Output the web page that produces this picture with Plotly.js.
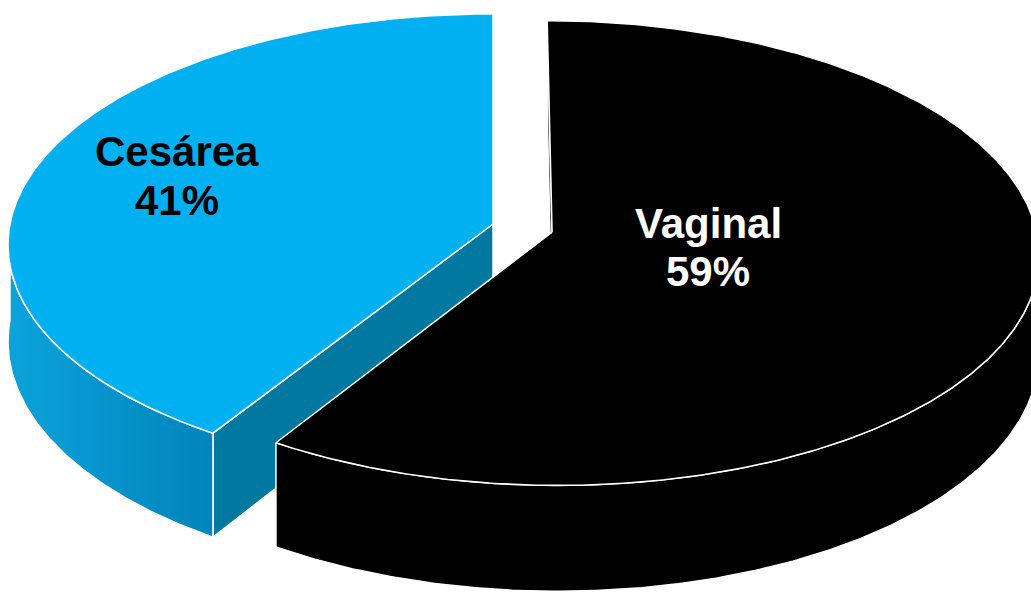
<!DOCTYPE html>
<html>
<head>
<meta charset="utf-8">
<script src="https://cdn.plot.ly/plotly-3.0.1.min.js"></script>
<style>html,body{margin:0;padding:0;background:#fff;overflow:hidden}#chart{width:1031px;height:593px}</style>
</head>
<body>
<div id="chart"></div>
<script>
// ---- data ----
const categories = ['Vaginal', 'Cesárea'];
const values = [59, 41];

// ---- style ----
const topColors = ['#000000', '#00B0F0'];
const cutColors = ['#000000', '#00789F'];
const wallColors = ['#000000', '#0A98D0'];
const wallGradients = [null, [[0, '#0CA2DB'], [1, '#0084BB']]];
const textColors = ['#FFFFFF', '#000000'];
const pulls = [0.127, 0];
const labelAt = [[708, 223, 271], [177, 151, 200]];

// 3D projection parameters (pixel space)
const cx = 493, cy = 224, B = 483, A = 229, K = 0.0898, D = 96;
function proj(X, Z, h) {
  const s = 1 + K * Z;
  return [cx + B * X / s, cy + (-A * Z + h * D) / s];
}

const total = values.reduce((a, b) => a + b, 0);
const rad = d => d * Math.PI / 180;
let cum = 0;
const slices = values.map((v, i) => {
  const a0 = 90 - 360 * cum / total;
  const a1 = 90 - 360 * (cum + v) / total;
  cum += v;
  const mid = rad((a0 + a1) / 2);
  return { i, a0, a1, px: pulls[i] * Math.cos(mid), pz: pulls[i] * Math.sin(mid), midZ: Math.sin(mid) };
});

function rimPt(sl, deg, h) {
  const t = rad(deg);
  return proj(sl.px + Math.cos(t), sl.pz + Math.sin(t), h);
}
function arc(sl, d0, d1, h) {
  const n = Math.max(2, Math.ceil(Math.abs(d1 - d0) / 0.5));
  const pts = [];
  for (let j = 0; j <= n; j++) pts.push(rimPt(sl, d0 + (d1 - d0) * j / n, h));
  return pts;
}
function polyTrace(pts, fill, grad) {
  const tr = {
    type: 'scatter', mode: 'lines', fill: 'toself',
    x: pts.map(p => p[0]), y: pts.map(p => p[1]),
    fillcolor: fill, line: { color: '#FFFFFF', width: 1.5 },
    hoverinfo: 'skip', showlegend: false
  };
  if (grad) tr.fillgradient = { type: 'horizontal', colorscale: grad };
  return tr;
}
function signedArea(pts) {
  let s = 0;
  for (let j = 0; j < pts.length; j++) {
    const p = pts[j], q = pts[(j + 1) % pts.length];
    s += p[0] * q[1] - q[0] * p[1];
  }
  return s;
}

const traces = [];
slices.slice().sort((a, b) => b.midZ - a.midZ).forEach(sl => {
  const c0 = proj(sl.px, sl.pz, 0), c1 = proj(sl.px, sl.pz, 1);
  // radial cut faces
  [[sl.a0, -1], [sl.a1, 1]].forEach(([deg, sign]) => {
    const q = [c0, rimPt(sl, deg, 0), rimPt(sl, deg, 1), c1];
    if (signedArea(q) * sign > 1) traces.push(polyTrace(q.concat([c0]), cutColors[sl.i]));
  });
  // outer curved walls (front half only)
  for (let n = -2; n <= 1; n++) {
    const lo = Math.max(sl.a1, -180 + 360 * n), hi = Math.min(sl.a0, 360 * n);
    if (hi > lo) {
      const topA = arc(sl, lo, hi, 0), botA = arc(sl, hi, lo, 1);
      const pts = topA.concat(botA, [topA[0]]);
      traces.push(polyTrace(pts, wallColors[sl.i], wallGradients[sl.i]));
    }
  }
  // top face
  const topPts = [c0].concat(arc(sl, sl.a0, sl.a1, 0), [c0]);
  traces.push(polyTrace(topPts, topColors[sl.i]));
});

const annotations = [];
categories.forEach((cat, i) => {
  const pct = Math.round(values[i] / total * 100) + '%';
  const [lx, y1, y2] = labelAt[i];
  [[cat, y1], [pct, y2]].forEach(([txt, yy]) => annotations.push({
    x: lx, y: yy, xref: 'x', yref: 'y', text: '<b>' + txt + '</b>', showarrow: false,
    xanchor: 'center', yanchor: 'middle',
    font: { family: 'Liberation Sans, Arial, sans-serif', size: 42, color: textColors[i] }
  }));
});

const layout = {
  width: 1031, height: 593, autosize: false,
  margin: { l: 0, r: 0, t: 0, b: 0, pad: 0 },
  paper_bgcolor: '#FFFFFF', plot_bgcolor: '#FFFFFF',
  xaxis: { range: [0, 1031], visible: false, fixedrange: true },
  yaxis: { range: [593, 0], visible: false, fixedrange: true },
  showlegend: false, hovermode: false,
  annotations
};
Plotly.newPlot('chart', traces, layout, { displayModeBar: false, staticPlot: true });
</script>
</body>
</html>
